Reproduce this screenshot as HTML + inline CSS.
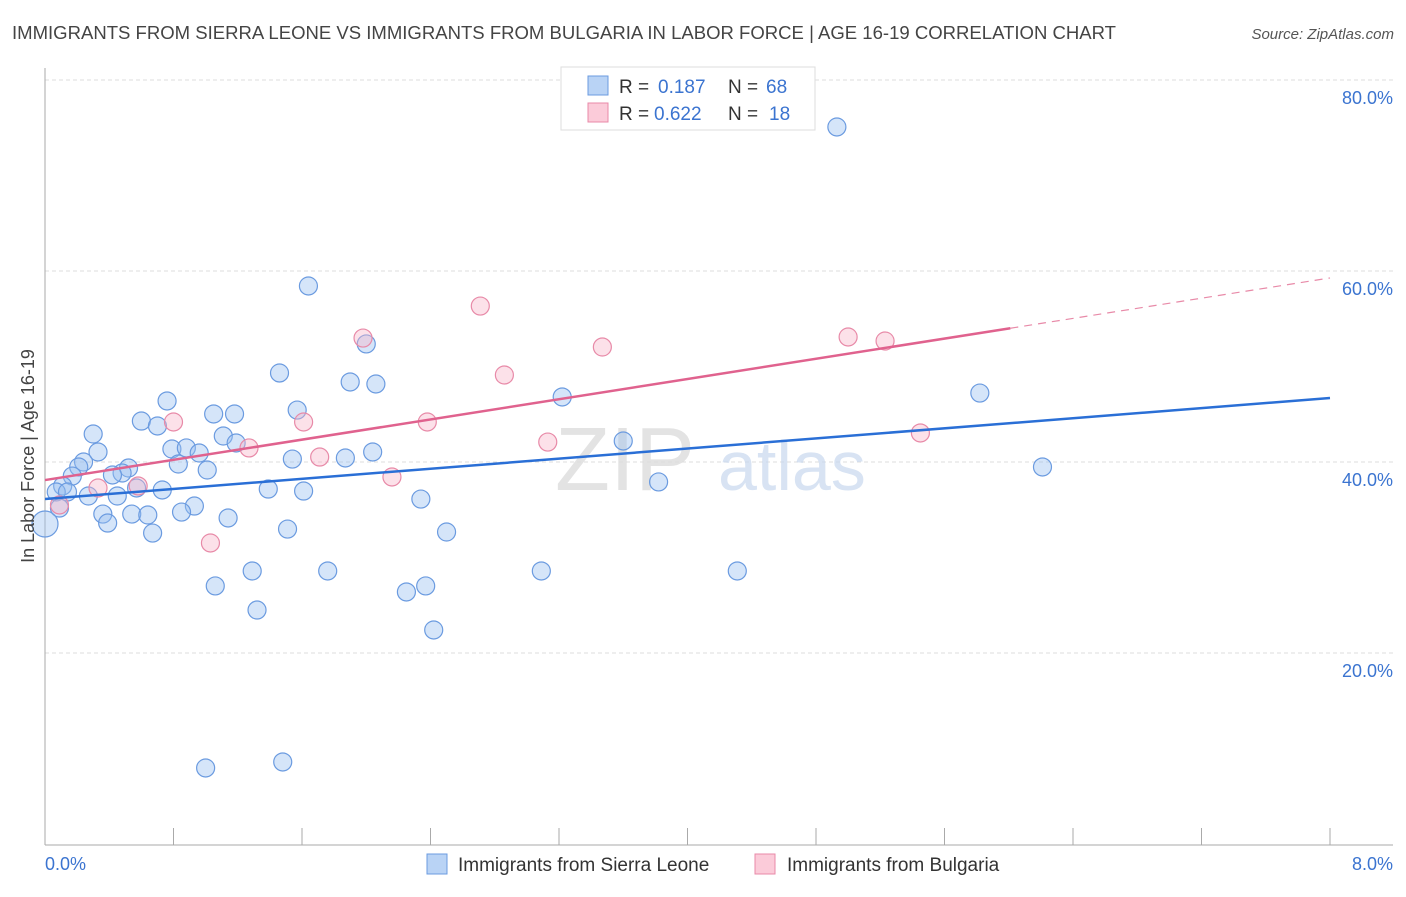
<!DOCTYPE html>
<html><head><meta charset="utf-8"><style>
body{margin:0;background:#fff;font-family:"Liberation Sans",sans-serif;}
svg text{font-family:"Liberation Sans",sans-serif;}
</style></head><body>
<svg id="chart" width="1406" height="892" xmlns="http://www.w3.org/2000/svg">
<text x="12" y="39" font-size="18" fill="#444" textLength="1104" lengthAdjust="spacingAndGlyphs">IMMIGRANTS FROM SIERRA LEONE VS IMMIGRANTS FROM BULGARIA IN LABOR FORCE | AGE 16-19 CORRELATION CHART</text>
<text x="1394" y="39" font-size="15" fill="#555" font-style="italic" text-anchor="end">Source: ZipAtlas.com</text>
<g id="grid"></g>
<g><text x="555" y="490" font-size="90" font-family="Liberation Serif" fill="#ddd" opacity="0.8">ZIP</text><text x="718" y="490" font-size="70" fill="#c8d8ee" opacity="0.7">atlas</text></g>
<g id="axes"></g>
<g id="pts"></g>
<g id="trends"></g>
<text transform="translate(34,456) rotate(-90)" font-size="18" fill="#444" text-anchor="middle">In Labor Force | Age 16-19</text>
<g>
<rect x="561" y="67" width="254" height="63" fill="#fff" stroke="#ddd"/>
<rect x="588" y="76" width="20" height="19" fill="#b9d3f5" stroke="#6b9be0"/>
<rect x="588" y="103" width="20" height="19" fill="#fbcbd9" stroke="#e88aa8"/>
<text x="619" y="93" font-size="19" fill="#333">R =</text>
<text x="658" y="93" font-size="19" fill="#3b74d0">0.187</text>
<text x="728" y="93" font-size="19" fill="#333">N =</text>
<text x="766" y="93" font-size="19" fill="#3b74d0">68</text>
<text x="619" y="120" font-size="19" fill="#333">R =</text>
<text x="654" y="120" font-size="19" fill="#3b74d0">0.622</text>
<text x="728" y="120" font-size="19" fill="#333">N =</text>
<text x="769" y="120" font-size="19" fill="#3b74d0">18</text>
</g>
<g>
<rect x="427" y="854" width="20" height="20" fill="#b9d3f5" stroke="#6b9be0"/>
<text x="458" y="871" font-size="19" fill="#333">Immigrants from Sierra Leone</text>
<rect x="755" y="854" width="20" height="20" fill="#fbcbd9" stroke="#e88aa8"/>
<text x="787" y="871" font-size="19" fill="#333">Immigrants from Bulgaria</text>
</g>
</svg>
<script>
const blueX=[4.93,1.64,2.00,1.46,1.90,2.06,3.22,5.82,0.76,1.57,1.05,1.18,0.60,0.70,0.30,1.11,1.19,3.60,0.79,0.88,0.96,0.33,1.54,1.87,2.04,6.21,0.24,0.21,0.83,1.01,0.52,0.48,0.42,0.17,3.82,0.11,0.07,0.14,1.39,1.61,0.73,0.57,0.45,0.27,2.34,0.93,0.85,0.36,0.54,0.64,1.14,0.09,0.39,1.51,0.67,2.50,0.00,1.29,1.76,3.09,4.31,1.06,2.25,2.37,1.32,2.42,1.00,1.48];
const blueY=[75.08,58.43,52.36,49.32,48.38,48.17,46.81,47.22,46.39,45.44,45.03,45.03,44.29,43.77,42.93,42.72,41.99,42.20,41.36,41.47,40.94,41.05,40.31,40.42,41.05,39.48,40.00,39.48,39.79,39.16,39.37,38.85,38.64,38.53,37.91,37.49,36.86,36.86,37.17,36.96,37.07,37.28,36.44,36.44,36.12,35.39,34.76,34.55,34.55,34.45,34.14,35.18,33.61,32.98,32.56,32.67,33.51,28.59,28.59,28.59,28.59,27.02,26.39,27.02,24.50,22.41,7.96,8.59];
const pinkX=[2.71,1.98,3.47,5.00,5.23,2.86,0.80,1.61,2.38,1.27,3.13,5.45,1.71,2.16,0.33,0.58,1.03,0.09];
const pinkY=[56.33,52.98,52.04,53.09,52.67,49.11,44.19,44.19,44.19,41.47,42.09,43.04,40.52,38.43,37.28,37.49,31.52,35.50];
const yTicks=[20,40,60,80];
const yTickLabels=["20.0%","40.0%","60.0%","80.0%"];
const xTicks=[0,0.8,1.6,2.4,3.2,4.0,4.8,5.6,6.4,7.2,8.0];
const blueTrend=[36.12,46.70];
const pinkTrend=[38.11,59.27];
const pinkSolidEnd=6.01;

const NS="http://www.w3.org/2000/svg";
const X=v=>45+v/8*1285;
const Y=v=>844-v/20*191;
function mk(tag,attrs,parent){const e=document.createElementNS(NS,tag);for(const k in attrs)e.setAttribute(k,attrs[k]);parent.appendChild(e);return e;}
const grid=document.getElementById('grid'),axes=document.getElementById('axes'),pts=document.getElementById('pts'),tr=document.getElementById('trends');
yTicks.forEach((t,i)=>{
 const l=mk('line',{x1:45,x2:1393,y1:Y(t),y2:Y(t),stroke:'#ddd','stroke-dasharray':'4,3'},grid);
 
 
 const tx=mk('text',{x:1393,y:Y(t)+24,'font-size':18,fill:'#3b74d0','text-anchor':'end'},axes);
 tx.textContent=yTickLabels[i];
 
 
});
const ya=mk('line',{x1:45,x2:45,y1:68,y2:845,stroke:'#aaa'},axes);


const xa=mk('line',{x1:45,x2:1393,y1:845,y2:845,stroke:'#aaa'},axes);


xTicks.forEach(t=>{
 const l=mk('line',{x1:X(t),x2:X(t),y1:828,y2:845,stroke:'#aaa'},axes);
 
 
});
const x0=mk('text',{x:45,y:870,'font-size':18,fill:'#3b74d0'},axes);x0.textContent='0.0%';


const x8=mk('text',{x:1393,y:870,'font-size':18,fill:'#3b74d0','text-anchor':'end'},axes);x8.textContent='8.0%';


blueX.forEach((v,i)=>{
 const c=mk('circle',{cx:X(v),cy:Y(blueY[i]),r:(v===0?13:9),fill:'rgba(150,190,240,0.4)',stroke:'#6b9be0','stroke-width':1.2},pts);
 
 
});
pinkX.forEach((v,i)=>{
 const c=mk('circle',{cx:X(v),cy:Y(pinkY[i]),r:9,fill:'rgba(248,180,200,0.4)',stroke:'#e88aa8','stroke-width':1.2},pts);
 
 
});
const bt=mk('line',{x1:X(0),y1:Y(blueTrend[0]),x2:X(8),y2:Y(blueTrend[1]),stroke:'#2a6fd6','stroke-width':2.5},tr);


const pv=x=>pinkTrend[0]+(pinkTrend[1]-pinkTrend[0])*x/8;
const pt=mk('line',{x1:X(0),y1:Y(pv(0)),x2:X(pinkSolidEnd),y2:Y(pv(pinkSolidEnd)),stroke:'#e0628e','stroke-width':2.5},tr);


const pd=mk('line',{x1:X(pinkSolidEnd),y1:Y(pv(pinkSolidEnd)),x2:X(8),y2:Y(pv(8)),stroke:'#e88aa8','stroke-width':1.2,'stroke-dasharray':'8,6'},tr);


</script>
</body></html>
